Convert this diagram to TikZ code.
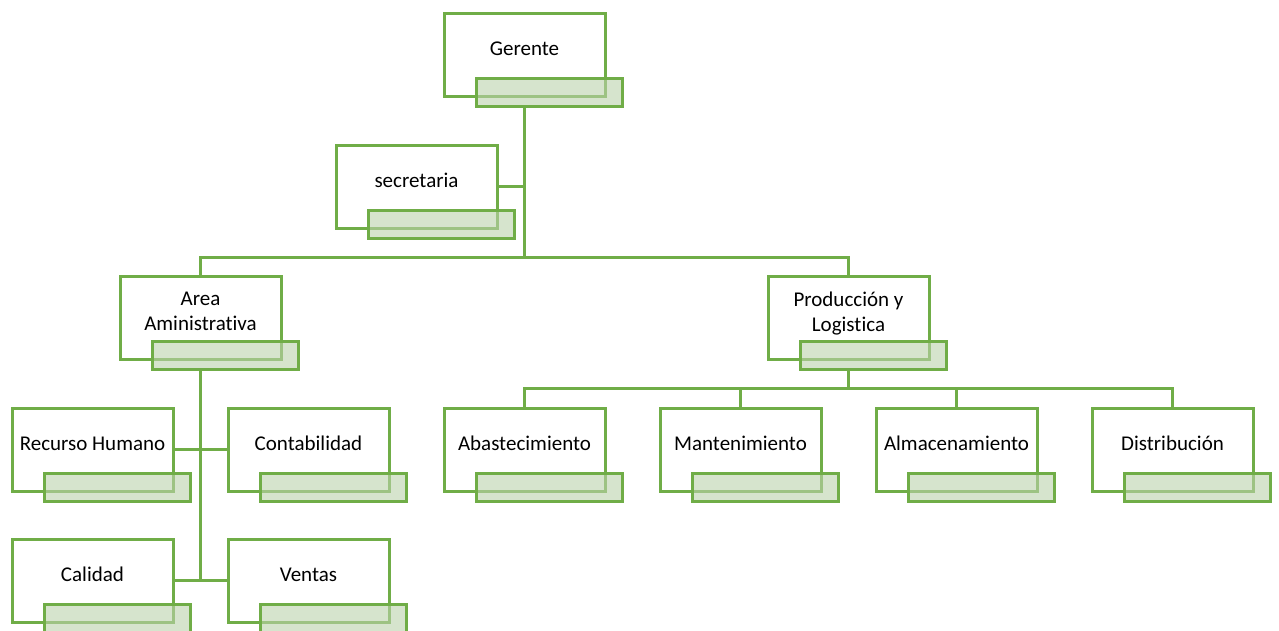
\documentclass[tikz,border=0pt]{standalone}
\usepackage{fontspec}
\setmainfont{Carlito}[Ligatures=NoCommon]
\definecolor{boxgreen}{HTML}{70AD47}
\definecolor{tabgreen}{HTML}{BBD2AC}
\tikzset{
  unitbox/.style={draw=boxgreen, line width=3pt, fill=white, minimum width=161pt,
    minimum height=83pt, align=center, text depth=12pt,
    font=\fontsize{21}{25}\selectfont},
  tabbox/.style={draw=boxgreen, line width=3pt, fill=tabgreen, fill opacity=0.6,
    draw opacity=1, minimum width=146pt, minimum height=28pt, inner sep=0pt},
  link/.style={draw=boxgreen, line width=3pt}
}
\begin{document}
\begin{tikzpicture}[x=1pt,y=-1pt]
    \useasboundingbox (0,0) rectangle (1279,630);
    % boxes
    \node[unitbox] (ger) at (524.5,55) {Gerente};
    \node[unitbox] (sec) at (416.5,186.5) {secretaria};
    \node[unitbox] (area) at (200.5,317.5) {Area\\Aministrativa};
    \node[unitbox] (prod) at (848.5,317.5) {Producción y\\Logistica};
    \node[unitbox] (rec) at (92.5,449.5) {Recurso Humano};
    \node[unitbox] (con) at (308.5,449.5) {Contabilidad};
    \node[unitbox] (cal) at (92.5,580.5) {Calidad};
    \node[unitbox] (ven) at (308.5,580.5) {Ventas};
    \node[unitbox] (aba) at (524.5,449.5) {Abastecimiento};
    \node[unitbox] (man) at (740.5,449.5) {Mantenimiento};
    \node[unitbox] (alm) at (956.5,449.5) {Almacenamiento};
    \node[unitbox] (dis) at (1172.5,449.5) {Distribución};
    % tabs
    \foreach \n in {ger,sec,area,prod,rec,con,cal,ven,aba,man,alm,dis}
      \node[tabbox, anchor=south west] (\n-t) at ([xshift=32pt,yshift=-10pt]\n.south west) {};
    % lines
    \coordinate (top-bus) at (524.5,257);
    \coordinate (prod-bus) at (848.5,388);
    \draw[link] (ger-t.south -| ger) -- (top-bus);
    \draw[link] (sec.east) -- (sec.east -| ger);
    \draw[link] (area.north) |- (top-bus) -| (prod.north);
    \draw[link] (area-t.south -| area) -- (area |- cal);
    \draw[link] (rec.east) -- (con.west);
    \draw[link] (cal.east) -- (ven.west);
    \draw[link] (prod-t.south -| prod) -- (prod-bus);
    \draw[link] (aba.north) |- (prod-bus) -| (dis.north);
    \draw[link] (man.north) -- (man.north |- prod-bus);
    \draw[link] (alm.north) -- (alm.north |- prod-bus);
\end{tikzpicture}
\end{document}
